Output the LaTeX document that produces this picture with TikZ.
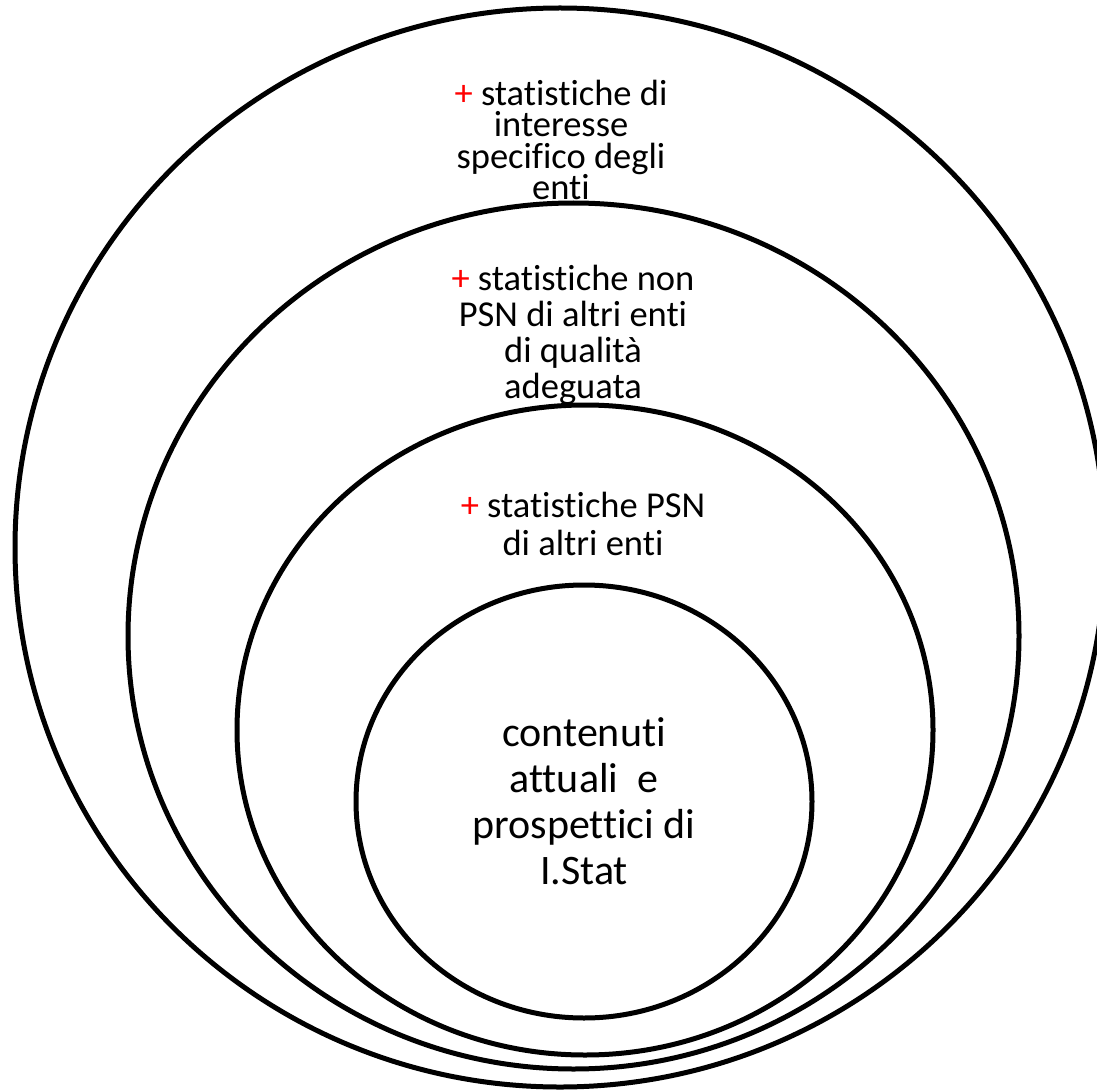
\documentclass[tikz,border=0pt]{standalone}
\usepackage{fontspec}
\setmainfont{Carlito}[Ligatures={NoCommon,NoContextual}]
\usetikzlibrary{shapes.geometric}
\tikzset{
  ring/.style={draw=black, line width=5pt, ellipse, inner sep=0pt, outer sep=0pt},
  label/.style={align=center, inner sep=0pt, text=black}
}
\newcommand{\rplus}{\textcolor{red}{+}}
\begin{document}
\begin{tikzpicture}[x=1pt,y=-1pt]
\useasboundingbox (0,0) rectangle (1097,1091);
\clip (0,0) rectangle (1097,1091);
\node[ring, minimum width=1090pt, minimum height=1079pt] (outer) at (560,547.5) {};
\node[ring, minimum width=891pt, minimum height=866pt] (second) at (573.5,636) {};
\node[ring, minimum width=696pt, minimum height=650pt] (third) at (585,730) {};
\node[ring, minimum width=456pt, minimum height=433pt] (inner) at (584,801.5) {};
\node[label, font=\fontsize{36.5}{31.5}\selectfont] (t1) at (561,140)
  {\rplus{} statistiche di\\interesse\\specifico degli\\enti};
\node[label, font=\fontsize{36.5}{36}\selectfont] (t2) at (573,334.5)
  {\rplus{} statistiche non\\PSN di altri enti\\di qualità\\adeguata};
\node[label, font=\fontsize{36.5}{38}\selectfont] (t3) at (583,523.5)
  {\rplus{} statistiche PSN\\di altri enti};
\node[label, font=\fontsize{42}{46}\selectfont] (t4) at (584,801)
  {contenuti\\attuali\ \ e\\prospettici di\\I.Stat};
\end{tikzpicture}
\end{document}
